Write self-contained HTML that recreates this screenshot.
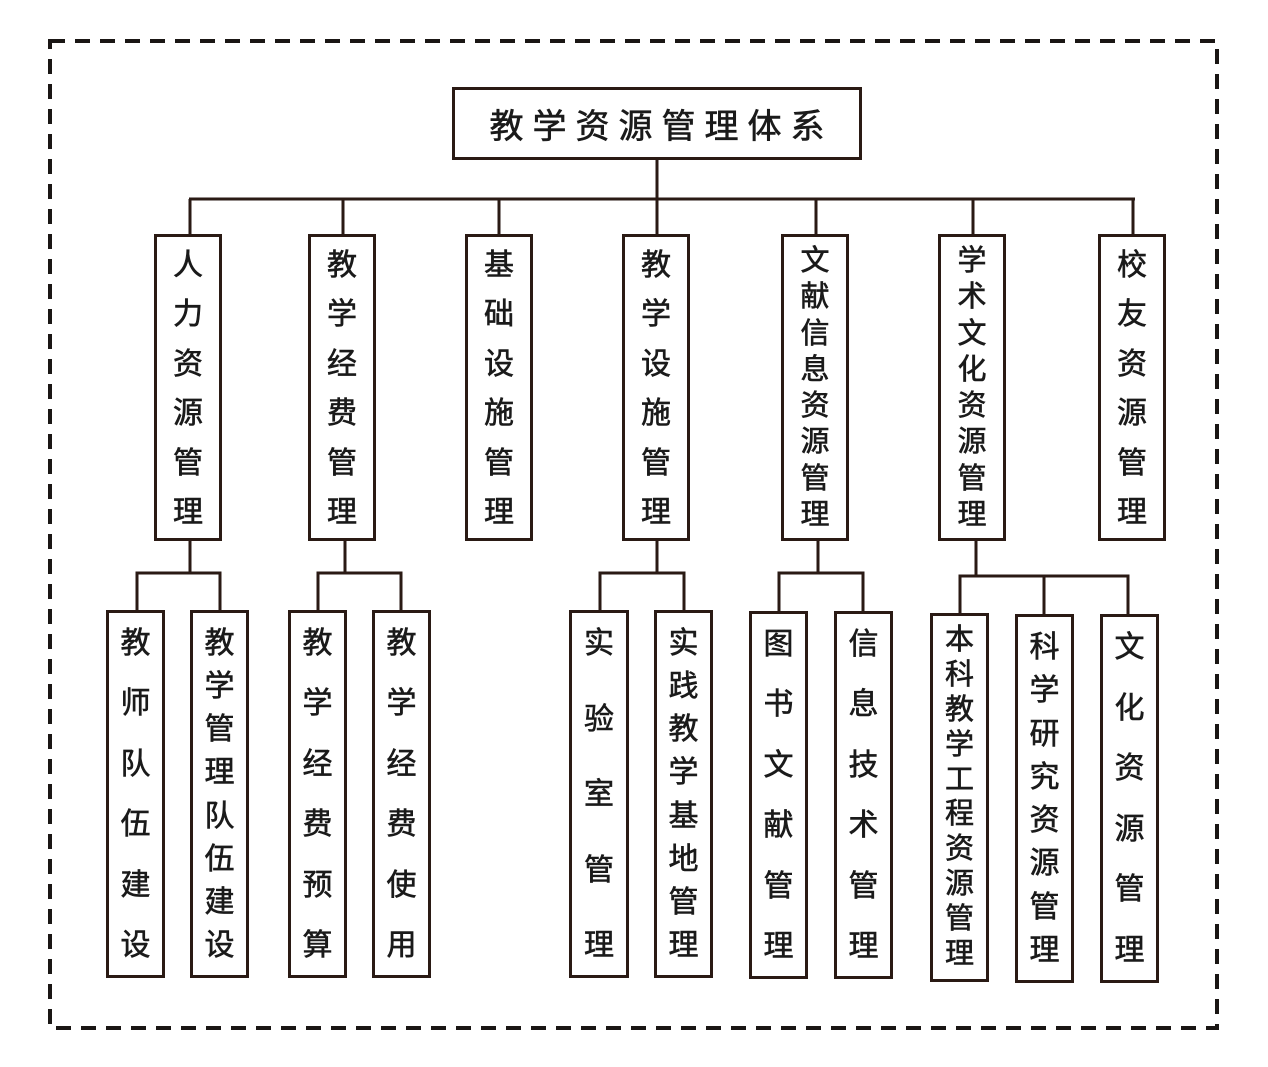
<!DOCTYPE html>
<html><head><meta charset="utf-8"><style>
html,body{margin:0;padding:0;background:#fff;}
#c{position:relative;width:1268px;height:1067px;overflow:hidden;background:#fff;}
.b{position:absolute;box-sizing:border-box;border:3px solid #2a1a14;background:#fff;display:flex;flex-direction:column;align-items:center;justify-content:space-between;font-family:"Liberation Sans","Noto Sans CJK SC",sans-serif;color:#1a1a1a;-webkit-text-stroke:0.6px #1a1a1a;}
.b span{display:block;line-height:1;}
svg{position:absolute;left:0;top:0;}
</style></head><body><div id="c">
<svg width="1268" height="1067">
<rect x="50" y="41" width="1167" height="987" fill="none" stroke="#1a1614" stroke-width="4" stroke-dasharray="15 10"/>
<g stroke="#2a1a14" stroke-width="3" fill="none">
<line x1="657" y1="159" x2="657" y2="199"/>
<line x1="189" y1="199" x2="1135" y2="199"/>
<line x1="190" y1="199" x2="190" y2="235"/>
<line x1="343" y1="199" x2="343" y2="235"/>
<line x1="499" y1="199" x2="499" y2="235"/>
<line x1="657" y1="199" x2="657" y2="235"/>
<line x1="816" y1="199" x2="816" y2="235"/>
<line x1="973" y1="199" x2="973" y2="235"/>
<line x1="1133" y1="199" x2="1133" y2="235"/>
<line x1="190" y1="540" x2="190" y2="573"/>
<path d="M137 611 V573 H220 V611"/>
<line x1="345" y1="540" x2="345" y2="573"/>
<path d="M318 611 V573 H401 V611"/>
<line x1="657" y1="540" x2="657" y2="573"/>
<path d="M600 611 V573 H684 V611"/>
<line x1="818" y1="540" x2="818" y2="573"/>
<path d="M779 611 V573 H863 V611"/>
<line x1="976" y1="540" x2="976" y2="576"/>
<path d="M960 614 V576 H1128 V614"/>
<line x1="1044" y1="576" x2="1044" y2="614"/>
</g>
</svg>
<div class="b" style="left:452px;top:87px;width:410px;height:73px;flex-direction:row;justify-content:center;font-size:34px;letter-spacing:9px;padding-left:9px;">教学资源管理体系</div>

<div class="b" style="left:154px;top:234px;width:68px;height:307px;padding:14px 0 10px;font-size:30px;"><span>人</span><span>力</span><span>资</span><span>源</span><span>管</span><span>理</span></div>
<div class="b" style="left:308px;top:234px;width:68px;height:307px;padding:14px 0 10px;font-size:30px;"><span>教</span><span>学</span><span>经</span><span>费</span><span>管</span><span>理</span></div>
<div class="b" style="left:465px;top:234px;width:68px;height:307px;padding:14px 0 10px;font-size:30px;"><span>基</span><span>础</span><span>设</span><span>施</span><span>管</span><span>理</span></div>
<div class="b" style="left:622px;top:234px;width:68px;height:307px;padding:14px 0 10px;font-size:30px;"><span>教</span><span>学</span><span>设</span><span>施</span><span>管</span><span>理</span></div>
<div class="b" style="left:781px;top:234px;width:68px;height:307px;padding:10px 0 8px;font-size:29px;"><span>文</span><span>献</span><span>信</span><span>息</span><span>资</span><span>源</span><span>管</span><span>理</span></div>
<div class="b" style="left:938px;top:234px;width:68px;height:307px;padding:10px 0 8px;font-size:29px;"><span>学</span><span>术</span><span>文</span><span>化</span><span>资</span><span>源</span><span>管</span><span>理</span></div>
<div class="b" style="left:1098px;top:234px;width:68px;height:307px;padding:14px 0 10px;font-size:30px;"><span>校</span><span>友</span><span>资</span><span>源</span><span>管</span><span>理</span></div>

<div class="b" style="left:106px;top:610px;width:59px;height:368px;padding:16px 0 14px;font-size:30px;"><span>教</span><span>师</span><span>队</span><span>伍</span><span>建</span><span>设</span></div>
<div class="b" style="left:190px;top:610px;width:59px;height:368px;padding:16px 0 14px;font-size:30px;"><span>教</span><span>学</span><span>管</span><span>理</span><span>队</span><span>伍</span><span>建</span><span>设</span></div>
<div class="b" style="left:288px;top:610px;width:59px;height:368px;padding:16px 0 14px;font-size:30px;"><span>教</span><span>学</span><span>经</span><span>费</span><span>预</span><span>算</span></div>
<div class="b" style="left:372px;top:610px;width:59px;height:368px;padding:16px 0 14px;font-size:30px;"><span>教</span><span>学</span><span>经</span><span>费</span><span>使</span><span>用</span></div>
<div class="b" style="left:569px;top:610px;width:60px;height:368px;padding:16px 0 14px;font-size:30px;"><span>实</span><span>验</span><span>室</span><span>管</span><span>理</span></div>
<div class="b" style="left:654px;top:610px;width:59px;height:368px;padding:16px 0 14px;font-size:30px;"><span>实</span><span>践</span><span>教</span><span>学</span><span>基</span><span>地</span><span>管</span><span>理</span></div>
<div class="b" style="left:749px;top:611px;width:59px;height:368px;padding:16px 0 14px;font-size:30px;"><span>图</span><span>书</span><span>文</span><span>献</span><span>管</span><span>理</span></div>
<div class="b" style="left:834px;top:611px;width:59px;height:368px;padding:16px 0 14px;font-size:30px;"><span>信</span><span>息</span><span>技</span><span>术</span><span>管</span><span>理</span></div>
<div class="b" style="left:930px;top:613px;width:59px;height:369px;padding:10px 0 10px;font-size:29px;"><span>本</span><span>科</span><span>教</span><span>学</span><span>工</span><span>程</span><span>资</span><span>源</span><span>管</span><span>理</span></div>
<div class="b" style="left:1015px;top:614px;width:59px;height:369px;padding:16px 0 14px;font-size:30px;"><span>科</span><span>学</span><span>研</span><span>究</span><span>资</span><span>源</span><span>管</span><span>理</span></div>
<div class="b" style="left:1100px;top:614px;width:59px;height:369px;padding:16px 0 14px;font-size:30px;"><span>文</span><span>化</span><span>资</span><span>源</span><span>管</span><span>理</span></div>
</div></body></html>
